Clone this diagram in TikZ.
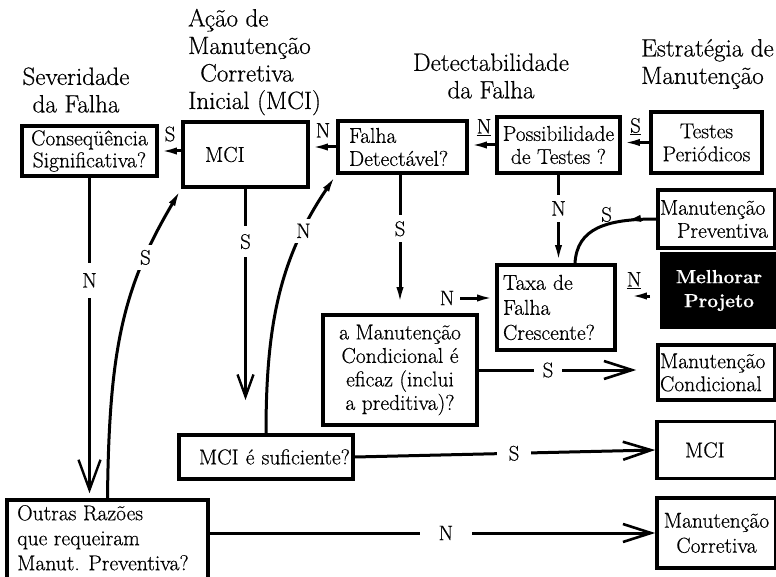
\documentclass[tikz,border=0pt]{standalone}
\usepackage{fontspec}
\setmainfont{Latin Modern Roman}[FakeBold=0.5]
\usetikzlibrary{arrows.meta,decorations.markings}
\begin{document}
\begin{tikzpicture}[x=1pt,y=-1pt,
  box/.style={draw=black, line width=3.6pt, rectangle, inner sep=0pt,
    font=\fontsize{21.5}{23}\selectfont},
  head/.style={font=\fontsize{25}{27.5}\selectfont, inner sep=0pt},
  lab/.style={font=\fontsize{21}{21}\selectfont, inner sep=0pt},
  gap/.style={lab, fill=white},
  wire/.style={line width=3pt},
  blob/.style={wire, -{Latex[length=18pt,width=7pt]}},
  vee/.style={wire, -{Straight Barb[length=30pt,width=22pt,line width=2.4pt]}},
  smallvee/.style={wire, -{Straight Barb[length=22pt,width=16pt,line width=2.4pt]}},
  barb/.style={wire, -{Straight Barb[length=28pt,width=18pt,line width=2.6pt]}},
  revblob/.style={wire, postaction={decorate}, decoration={markings,
    mark=at position 0.68 with {\arrowreversed{Latex[length=18pt,width=7pt]}}}},
]
\useasboundingbox (0,0) rectangle (776,577);
\fill[white] (0,0) rectangle (776,577);

% column headings
\node[head, align=center] (hsev) at (76,90) {Severidade\\da Falha};
\node[head, align=left, anchor=west] (hmci) at (188,62)
  {Ação de\\Manutenção\\\hspace*{12pt}Corretiva\\Inicial (MCI)};
\node[head, align=center] (hdet) at (491,76) {Detectabilidade\\da Falha};
\node[head, align=left, anchor=west] (hest) at (641,64) {Estratégia de\\Manutenção};

% top row
\node[box, minimum width=135pt, minimum height=50pt, align=center,
  font=\fontsize{21.5}{22}\selectfont] (cons) at (89.5,151) {Conseqüência\\Significativa?};
\node[box, minimum width=125pt, minimum height=65pt, inner xsep=22pt,
  text width=81pt, align=left] (mci1) at (245.5,154.5) {MCI};
\node[box, minimum width=129pt, minimum height=52pt, inner xsep=11pt,
  text width=107pt, align=left] (fd) at (402.5,147) {Falha\\Detectável?};
\node[box, minimum width=123pt, minimum height=56pt, align=center]
  (pt) at (558.5,145) {Possibilidade\\de Testes ?};
\node[box, minimum width=111pt, minimum height=61pt, align=center]
  (tp) at (706.5,142.5) {Testes\\Periódicos};

% right column
\node[box, minimum width=117pt, minimum height=58pt, inner xsep=2pt,
  text width=113pt, align=left] (mp) at (716.5,219) {Manutenção\\\hspace*{17pt}Preventiva};
\node[box, fill=black, text=white, minimum width=114pt, minimum height=73pt,
  align=center, font=\fontsize{19}{24}\selectfont\bfseries] (mpj) at (719,290.5) {Melhorar\\Projeto};
\node[box, minimum width=117pt, minimum height=55pt, inner xsep=2pt,
  text width=113pt, align=left] (mc) at (716.5,372.5) {Manutenção\\Condicional};
\node[box, minimum width=119pt, minimum height=57pt, inner xsep=28pt,
  text width=63pt, align=left] (mci2) at (716.5,450) {MCI};
\node[box, minimum width=119pt, minimum height=70pt, align=center,
  font=\fontsize{21.5}{25}\selectfont] (mco) at (716.5,533) {Manutenção\\Corretiva};

% middle decisions
\node[box, minimum width=118pt, minimum height=85pt, inner xsep=6pt,
  text width=106pt, align=left, font=\fontsize{21.5}{25}\selectfont]
  (tfc) at (556,307.5) {Taxa de\\Falha\\Crescente?};
\node[box, minimum width=154pt, minimum height=110pt, align=center,
  font=\fontsize{21.5}{23.5}\selectfont]
  (cond) at (400,370) {a Manutenção\\Condicional é\\eficaz (inclui\\a preditiva)?};
\node[box, minimum width=174pt, minimum height=44pt, inner xsep=3pt,
  text width=168pt, align=right] (suf) at (266,457) {MCI é suficiente?};
% the lower-left box runs past the bottom edge; its text sits near its top
\node[box, minimum width=201pt, minimum height=90pt] (out) at (107.5,545) {};
\node[anchor=north west, inner sep=0pt, align=left, font=\fontsize{21.5}{25}\selectfont]
  (outtext) at (17,505) {Outras Razões\\que requeiram\\Manut. Preventiva?};

% short arrows of the top row
\draw[blob] (mci1.west |- cons.east) -- node[lab, above=8pt]{S} (cons.east);
\draw[blob] (fd.west) -- node[lab, above=8pt]{N} (fd.west -| mci1.east);
\draw[blob] (pt.west) -- node[lab, above=8pt, xshift=2pt]{\underline{N}} (pt.west -| fd.east);
\draw[blob] (tp.west) -- node[lab, above=6pt]{\underline{S}} (tp.west -| pt.east);

% Melhorar Projeto
\draw[blob, shorten <=10pt, shorten >=12pt] ([yshift=-5.5pt]mpj.west) coordinate (mw)
  -- node[lab, above=6pt, pos=0.6]{\underline{N}} (mw -| tfc.east);

% vertical connectors
\draw[vee, shorten >=5pt] (cons.south) -- node[gap, inner ysep=10pt, inner xsep=2pt, pos=0.32]{N}
  (cons.south |- out.north);
\coordinate (mcistop) at (245.5,400);
\draw[smallvee] (mci1.south) -- node[gap, inner ysep=8pt, inner xsep=2pt, pos=0.25]{S} (mcistop);
\draw[blob, shorten >=8pt] (cond.north |- fd.south) -- node[gap, inner ysep=6pt, inner xsep=2pt, pos=0.39]{S}
  (cond.north);
\draw[blob] (pt.south) -- node[gap, inner ysep=6pt, inner xsep=2pt, pos=0.38]{N} (pt.south |- tfc.north);

% curved connectors
\draw[blob] (out.north) .. controls +(1.5,-150) and +(-58,98) .. node[gap, inner sep=5pt, pos=0.75]{S}
  (mci1.south west);
\draw[blob] (suf.north) .. controls +(0,-107) and +(-57,84) .. node[gap, inner sep=5pt, pos=0.77]{N}
  (fd.south west);
\draw[revblob] ([xshift=19pt]tfc.north) .. controls +(2,-35) and +(-50,0) .. node[lab, pos=0.6, above=1pt]{S}
  (mp.west);

% N from the condition box to the failure-rate box
\node[lab] (ncond) at (447,298) {N};
\draw[blob, shorten <=6pt] (ncond.east) -- (ncond.east -| tfc.west);

% long horizontal arrows
\draw[barb, shorten >=20pt] (cond.east) -- node[gap, inner xsep=9pt, inner ysep=2pt, pos=0.39]{S}
  (cond.east -| mc.west);
\draw[barb] (suf.east) -- node[gap, inner xsep=12pt, inner ysep=2pt, pos=0.53]{S} (mci2.west);
\draw[barb] (out.east |- mco.west) -- node[gap, inner xsep=19pt, inner ysep=2pt, pos=0.53]{N} (mco.west);
\end{tikzpicture}
\end{document}
